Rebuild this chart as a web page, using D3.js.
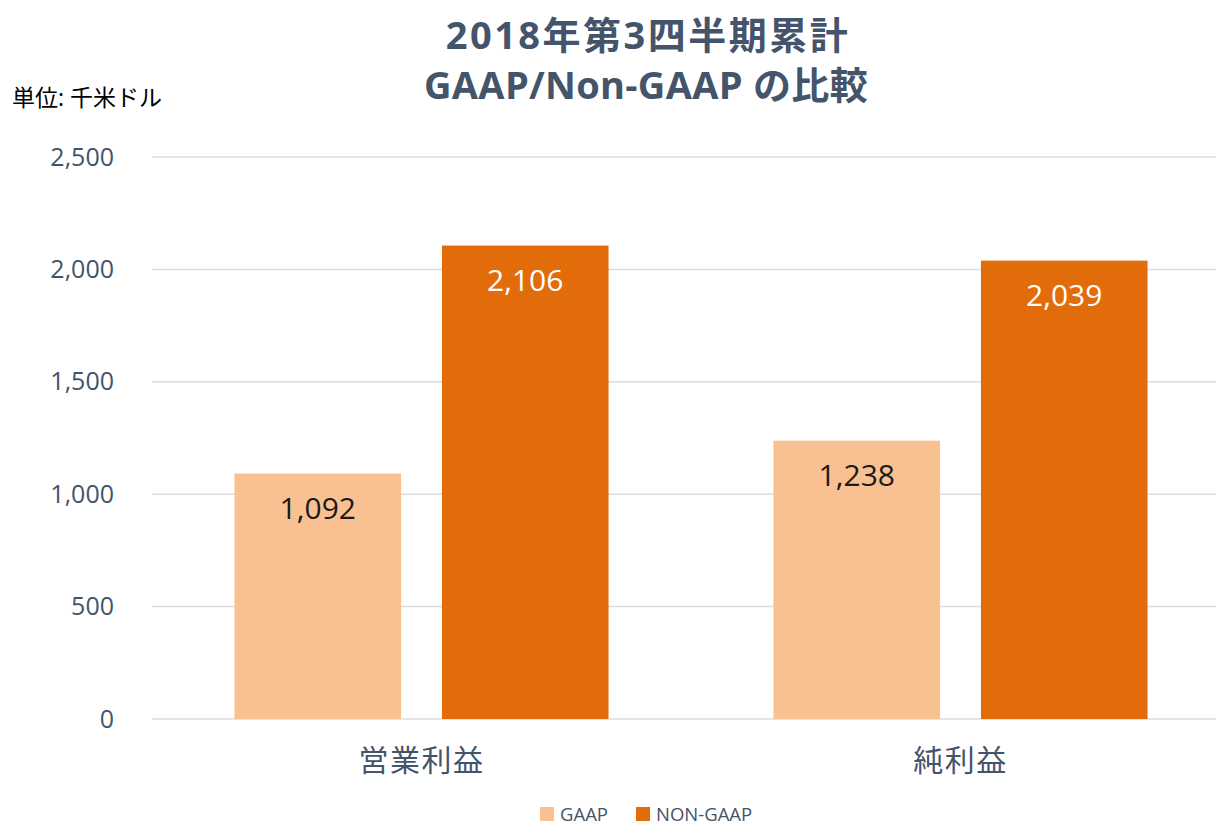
<!DOCTYPE html>
<html>
<head>
<meta charset="utf-8">
<script src="https://cdn.jsdelivr.net/npm/d3@7"></script>
<style>
  body { margin: 0; background: #fff; }
  text { font-family: "Open Sans", "Noto Sans CJK JP", sans-serif; }
</style>
</head>
<body>
<div class="canvas"></div>
<script>
// data
const categories = ['営業利益', '純利益']
const seriesNames = ['GAAP', 'NON-GAAP']
const gaapValues = [1092, 1238]
const nonGaapValues = [2106, 2039]
const yTicks = [0, 500, 1000, 1500, 2000, 2500]

const colors = { 'GAAP': '#F9C191', 'NON-GAAP': '#E36C0A' }
const labelColors = { 'GAAP': '#1a1a1a', 'NON-GAAP': '#ffffff' }
const textColor = '#44546A'

const dims = { width: 1218, height: 827 }
const plot = { left: 152, right: 1230, top: 157, bottom: 719, gridRight: 1216 }

const svg = d3.select('.canvas')
    .append('svg')
    .attr('width', dims.width)
    .attr('height', dims.height)

// scales
const y = d3.scaleLinear().domain([0, 2500]).range([plot.bottom, plot.top])

const x0 = d3.scaleBand()
    .domain(categories)
    .range([plot.left, plot.right])
    .paddingInner(0.306)
    .paddingOuter(0.153)

const x1 = d3.scaleBand()
    .domain(seriesNames)
    .range([0, x0.bandwidth()])
    .paddingInner(0.197)

// gridlines
svg.append('g')
    .selectAll('line')
    .data(yTicks)
    .enter()
    .append('line')
    .attr('x1', plot.left)
    .attr('x2', plot.gridRight)
    .attr('y1', d => y(d))
    .attr('y2', d => y(d))
    .attr('stroke', '#D9DEE5')
    .attr('stroke-width', 1.5)

// y axis
const yAxis = svg.append('g')
    .attr('transform', `translate(${plot.left - 35}, 0)`)
    .call(d3.axisLeft(y).tickValues(yTicks).tickSize(0).tickFormat(d3.format(',')))
yAxis.select('.domain').remove()
yAxis.selectAll('text')
    .attr('fill', textColor)
    .attr('font-size', 25)
    .attr('font-family', '"Open Sans", sans-serif')

// x axis
const xAxis = svg.append('g')
    .attr('transform', `translate(0, ${plot.bottom})`)
    .call(d3.axisBottom(x0).tickSize(0))
xAxis.select('.domain').remove()
xAxis.selectAll('text')
    .attr('fill', textColor)
    .attr('font-size', 30)
    .attr('letter-spacing', 1.5)
    .attr('font-family', '"Noto Sans CJK JP", sans-serif')
    .attr('dy', 0)
    .attr('y', 52)

// bars
const rows = categories.map((c, i) => ({
    category: c,
    values: [
        { series: 'GAAP', value: gaapValues[i] },
        { series: 'NON-GAAP', value: nonGaapValues[i] }
    ]
}))

const groups = svg.selectAll('.group')
    .data(rows)
    .enter()
    .append('g')
    .attr('class', 'group')
    .attr('transform', d => `translate(${x0(d.category)}, 0)`)

groups.selectAll('rect')
    .data(d => d.values)
    .enter()
    .append('rect')
    .attr('x', d => x1(d.series))
    .attr('width', x1.bandwidth())
    .attr('y', d => y(d.value))
    .attr('height', d => y(0) - y(d.value))
    .attr('fill', d => colors[d.series])

groups.selectAll('.label')
    .data(d => d.values)
    .enter()
    .append('text')
    .attr('class', 'label')
    .attr('x', d => x1(d.series) + x1.bandwidth() / 2)
    .attr('y', d => y(d.value) + 45)
    .attr('text-anchor', 'middle')
    .attr('font-size', 30)
    .attr('fill', d => labelColors[d.series])
    .text(d => d3.format(',')(d.value))

// title
const title = svg.append('text')
    .attr('text-anchor', 'middle')
    .attr('font-weight', 'bold')
    .attr('font-size', 38)
    .attr('fill', textColor)
title.append('tspan').attr('x', 648).attr('y', 49).attr('letter-spacing', 2.5).text('2018年第3四半期累計')
title.append('tspan').attr('x', 646).attr('y', 99).attr('letter-spacing', 0.3).text('GAAP/Non-GAAP の比較')

// unit
svg.append('text')
    .attr('x', 12)
    .attr('y', 106)
    .attr('font-size', 23)
    .attr('font-family', '"Noto Sans CJK JP", sans-serif')
    .attr('fill', '#000')
    .text('単位: 千米ドル')

// legend
const legend = svg.append('g')
    .attr('transform', 'translate(540, 807)')
const legendItems = legend.selectAll('g')
    .data(seriesNames)
    .enter()
    .append('g')
    .attr('transform', (d, i) => `translate(${i * 96}, 0)`)
legendItems.append('rect')
    .attr('width', 14)
    .attr('height', 14)
    .attr('fill', d => colors[d])
legendItems.append('text')
    .attr('x', 20)
    .attr('y', 14)
    .attr('font-size', 18.5)
    .attr('fill', textColor)
    .text(d => d)
</script>
</body>
</html>
